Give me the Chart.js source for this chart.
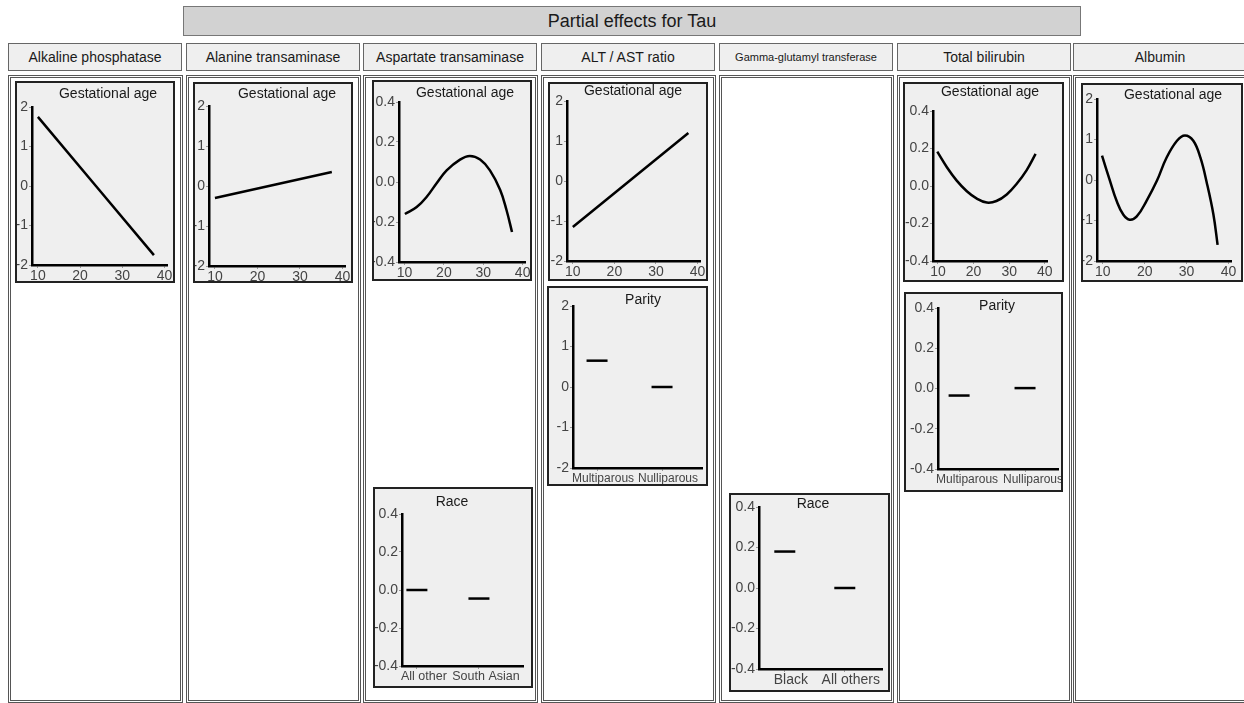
<!DOCTYPE html>
<html>
<head>
<meta charset="utf-8">
<script src="https://cdn.jsdelivr.net/npm/chart.js@4.4.1/dist/chart.umd.min.js"></script>
<style>
  html, body { margin: 0; padding: 0; background: #fff; width: 1244px; height: 703px; overflow: hidden;
    font-family: 'Liberation Sans', Arial, sans-serif; }
  .abs { position: absolute; box-sizing: border-box; }
  #title { left: 183px; top: 6px; width: 898px; height: 30px; background: #d2d2d2; border: 1px solid #777;
    font-size: 18px; line-height: 29px; text-align: center; color: #1a1a1a; }
  .hdr { top: 43px; height: 28px; background: #efefef; border: 1px solid #666; font-size: 14px;
    line-height: 26px; text-align: center; color: #1a1a1a; white-space: nowrap; }
  .hdr.small { font-size: 11px; }
  .col { top: 75px; height: 628px; border: 3px double #555; background: #fff; }
  .panel { border: 2px solid #222; background: #efefef; }
  .panel canvas { position: absolute; left: 0; top: 0; }
  .ptitle { position: absolute; font-size: 14px; color: #1a1a1a; transform: translate(-50%, -50%); white-space: nowrap; }
</style>
</head>
<body>
<div id="title" class="abs">Partial effects for Tau</div>
<script>
// Column headings (one per liver-function marker)
const columnNames = ['Alkaline phosphatase', 'Alanine transaminase', 'Aspartate transaminase',
  'ALT / AST ratio', 'Gamma-glutamyl transferase', 'Total bilirubin', 'Albumin'];

// Axis tick values
const ageTicks = [10, 20, 30, 40];
const wideTicks = [-2, -1, 0, 1, 2];
const narrowTicks = [-0.4, -0.2, 0, 0.2, 0.4];

// Gestational age smooth terms (weeks -> partial effect)
const alpAge = [10, 37.5];
const alpEffect = [1.75, -1.75];

const altAge = [10, 37.5];
const altEffect = [-0.3, 0.35];

const astAge = [10.1, 13.1, 15.6, 18.2, 20.7, 24.1, 26.6, 29.2, 31.7, 34.3, 35.9, 37.3];
const astEffect = [-0.16, -0.125, -0.075, -0.005, 0.058, 0.112, 0.13, 0.112, 0.058, -0.04, -0.14, -0.25];

const ratioAge = [10, 37.8];
const ratioEffect = [-1.15, 1.2];

const biliAge = [9.8, 12.5, 15.2, 18.1, 20.8, 23.7, 26.4, 29.3, 32.1, 34.9, 37.4];
const biliEffect = [0.183, 0.10, 0.03, -0.028, -0.066, -0.088, -0.08, -0.045, 0.012, 0.085, 0.171];

const albAge = [9.8, 11.7, 13.3, 14.9, 16.4, 18.1, 20.4, 22.9, 25.2, 27.7, 29.6, 31.6, 33.3, 34.8, 36.4, 37.4];
const albEffect = [0.60, -0.02, -0.52, -0.86, -0.98, -0.90, -0.52, -0.02, 0.55, 0.97, 1.10, 0.97, 0.55, -0.06, -0.85, -1.60];

// Categorical terms
const parityCats = ['Multiparous', 'Nulliparous'];
const ratioParity = [0.65, 0.0];
const biliParity = [-0.035, 0.002];

const astRaceCats = ['All other', 'South Asian'];
const astRace = [0.0, -0.045];

const ggtRaceCats = ['Black', 'All others'];
const ggtRace = [0.18, 0.0];

// Page layout
const colLefts = [8, 186, 363, 541, 719, 897, 1073];
const colWidth = 175;

colLefts.forEach((left, i) => {
  const h = document.createElement('div');
  h.className = 'abs hdr' + (columnNames[i].length > 24 ? ' small' : '');
  h.style.left = left + 'px';
  h.style.width = (colWidth - 1) + 'px';
  h.textContent = columnNames[i];
  document.body.appendChild(h);
  const c = document.createElement('div');
  c.className = 'abs col';
  c.style.left = left + 'px';
  c.style.width = colWidth + 'px';
  document.body.appendChild(c);
});

const FONT = "'Liberation Sans', Arial, sans-serif";

const panels = [
  { title: 'Gestational age', box: [15, 81, 175, 283], plot: [32, 107, 167, 265], tpos: [108, 93],
    kind: 'age', x: alpAge, y: alpEffect, yTicks: wideTicks },
  { title: 'Gestational age', box: [193, 82, 353, 283], plot: [209, 106, 345, 266], tpos: [287, 93],
    kind: 'age', x: altAge, y: altEffect, yTicks: wideTicks },
  { title: 'Gestational age', box: [372, 80, 532, 281], plot: [399, 102, 525, 262], tpos: [465, 92],
    kind: 'age', x: astAge, y: astEffect, yTicks: narrowTicks },
  { title: 'Gestational age', box: [548, 82, 708, 281], plot: [567, 101, 700, 261], tpos: [633, 90],
    kind: 'age', x: ratioAge, y: ratioEffect, yTicks: wideTicks },
  { title: 'Parity', box: [547, 286, 708, 486], plot: [573, 306, 702, 468], tpos: [643, 299],
    kind: 'cat', cats: parityCats, y: ratioParity, yTicks: wideTicks, catSize: 12,
    xRange: [-0.37, 1.615], labelShift: 6 },
  { title: 'Race', box: [373, 487, 533, 688], plot: [402, 514, 523, 666], tpos: [452, 501],
    kind: 'cat', cats: astRaceCats, y: astRace, yTicks: narrowTicks, catSize: 12.5,
    xRange: [-0.24, 1.71], labelShift: 7 },
  { title: 'Race', box: [729, 493, 890, 692], plot: [759, 507, 882, 669], tpos: [813, 503],
    kind: 'cat', cats: ggtRaceCats, y: ggtRace, yTicks: narrowTicks, catSize: 14,
    xRange: [-0.43, 1.62], labelShift: 6 },
  { title: 'Gestational age', box: [903, 82, 1064, 282], plot: [933, 111, 1047, 261], tpos: [990, 91],
    kind: 'age', x: biliAge, y: biliEffect, yTicks: narrowTicks },
  { title: 'Parity', box: [904, 292, 1063, 492], plot: [938, 308, 1058, 469], tpos: [997, 305],
    kind: 'cat', cats: parityCats, y: biliParity, yTicks: narrowTicks, catSize: 12,
    xRange: [-0.32, 1.50], labelShift: 8 },
  { title: 'Gestational age', box: [1081, 83, 1243, 282], plot: [1097, 99, 1231, 261], tpos: [1173, 94],
    kind: 'age', x: albAge, y: albEffect, yTicks: wideTicks }
];

function drawPanel(p) {
  const [bl, bt, br, bb] = p.box;
  const [pl, pt, pr, pb] = p.plot;
  const box = document.createElement('div');
  box.className = 'abs panel';
  box.style.left = bl + 'px';
  box.style.top = bt + 'px';
  box.style.width = (br - bl) + 'px';
  box.style.height = (bb - bt) + 'px';
  document.body.appendChild(box);

  const cw = br - bl - 4, ch = bb - bt - 4;
  const cv = document.createElement('canvas');
  cv.width = cw; cv.height = ch;
  cv.style.width = cw + 'px'; cv.style.height = ch + 'px';
  box.appendChild(cv);

  const yAxisW = pl - (bl + 2);
  const xAxisH = (bb - 2) - pb;
  const padTop = pt - (bt + 2);
  const padRight = (br - 2) - pr;

  const wide = p.yTicks === wideTicks;
  let datasets, xScale;

  if (p.kind === 'age') {
    datasets = [{
      data: p.x.map((v, i) => ({ x: v, y: p.y[i] })),
      showLine: true, borderColor: '#000', borderWidth: 2.5, pointRadius: 0,
      tension: 0.4, fill: false
    }];
    xScale = { min: 8.6, max: 40.6, tickVals: ageTicks, label: v => String(v), size: 14, offset: 0 };
  } else {
    datasets = [{
      data: p.cats.map((c, i) => ({ x: i, y: p.y[i] })),
      showLine: false, pointStyle: 'line', pointRadius: 10.5, pointBorderWidth: 2.5,
      pointBorderColor: '#000', pointBackgroundColor: '#000', borderColor: '#000'
    }];
    xScale = { min: p.xRange[0], max: p.xRange[1], tickVals: p.cats.map((c, i) => i),
      label: v => p.cats[v], size: p.catSize, offset: p.labelShift };
  }

  new Chart(cv, {
    type: 'scatter',
    data: { datasets },
    options: {
      responsive: false, animation: false, events: [],
      layout: { autoPadding: false, padding: { top: padTop, right: padRight, left: 0, bottom: 0 } },
      plugins: { legend: { display: false }, tooltip: { enabled: false }, title: { display: false } },
      scales: {
        x: {
          type: 'linear', min: xScale.min, max: xScale.max,
          afterBuildTicks: s => { s.ticks = xScale.tickVals.map(v => ({ value: v })); },
          afterFit: s => { s.height = xAxisH; s.paddingLeft = 0; s.paddingRight = 0; },
          grid: { display: true, drawOnChartArea: false, tickLength: 3, color: '#999', lineWidth: 1 },
          border: { display: true, color: '#000', width: 2.5 },
          ticks: { font: { family: FONT, size: xScale.size }, color: '#444', padding: 0, maxRotation: 0,
            autoSkip: false, labelOffset: xScale.offset, callback: v => xScale.label(v) }
        },
        y: {
          type: 'linear', min: p.yTicks[0], max: p.yTicks[p.yTicks.length - 1],
          afterBuildTicks: s => { s.ticks = p.yTicks.map(v => ({ value: v })); },
          afterFit: s => { s.width = yAxisW; s.paddingTop = 0; s.paddingBottom = 0; },
          grid: { display: true, drawOnChartArea: false, tickLength: 3, color: '#999', lineWidth: 1 },
          border: { display: true, color: '#000', width: 2.5 },
          ticks: { font: { family: FONT, size: 14 }, color: '#444', padding: 1,
            callback: v => wide ? String(v) : v.toFixed(1) }
        }
      }
    }
  });

  const t = document.createElement('div');
  t.className = 'ptitle';
  t.style.left = p.tpos[0] + 'px';
  t.style.top = p.tpos[1] + 'px';
  t.textContent = p.title;
  document.body.appendChild(t);
}

panels.forEach(drawPanel);
</script>
</body>
</html>
